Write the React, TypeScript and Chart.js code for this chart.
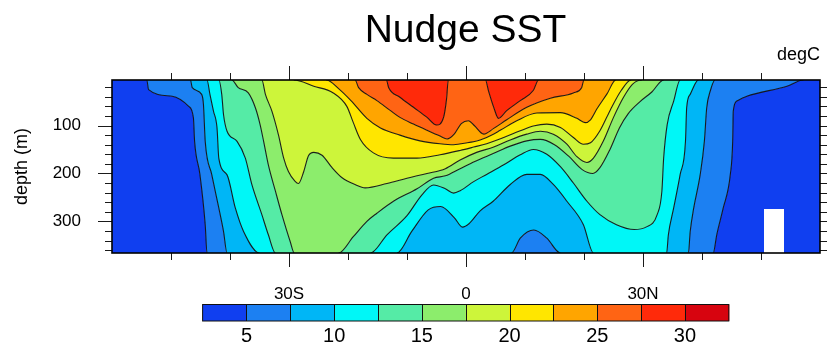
import React, { useEffect, useRef } from 'react';
import { Chart, registerables } from 'chart.js';

Chart.register(...registerables);

type Pt = [number, number];

const titleText = 'Nudge SST';
const unitsText = 'degC';
const yAxisTitle = 'depth (m)';

const latRange: Pt = [-60, 60];
const depthRange: Pt = [5, 366];

const xMajorTicks = [-30, 0, 30];
const xTickLabels = ['30S', '0', '30N'];
const xMinorTicks = [-50, -40, -20, -10, 10, 20, 40, 50];
const yMajorTicks = [100, 200, 300];
const yMinorTicks = [20, 40, 60, 80, 120, 140, 160, 180, 220, 240, 260, 280, 320, 340, 360];

const contourLevels = [5, 7.5, 10, 12.5, 15, 17.5, 20, 22.5, 25, 27.5, 30];
const bandColors = [
  '#103ff0', '#1c80f2', '#00b6f6', '#00f7f7', '#55eba6', '#8ced6c',
  '#cdf53a', '#ffe600', '#ffa500', '#ff6414', '#ff2a0a', '#d7040f',
];

// isotherm depth (m) vs latitude (deg); 5 = above surface, 366 = below bottom
const iso05: Pt[] = [[-60,5],[-54.1,5],[-53.8,25],[-49.8,39],[-47.0,60],[-46.2,84],[-46.0,133],[-45.1,202],[-44.2,307],[-43.9,366],[41.9,366],[42.5,328],[43.6,272],[44.8,202],[45.2,133],[45.3,70],[45.9,49],[47.6,39],[54.4,18],[57.2,5],[60,5]];
const iso075: Pt[] = [[-60,5],[-46.7,5],[-46.4,21],[-44.8,35],[-44.5,56],[-44.2,133],[-43.1,202],[-41.9,272],[-41.1,321],[-40.5,366],[7.7,366],[9.2,335],[11.5,318],[13.7,335],[16.0,366],[37.7,366],[38.0,321],[38.6,272],[39.7,202],[40.4,133],[40.8,63],[41.4,28],[42.2,5],[60,5]];
const iso10: Pt[] = [[-60,5],[-43.9,5],[-43.4,35],[-42.8,70],[-42.2,105],[-41.9,168],[-40.5,203],[-39.1,272],[-37.7,321],[-35.0,366],[-11.7,366],[-9.2,321],[-6.4,276],[-4.3,269],[-2.0,292],[-0.6,312],[0.5,305],[2.4,278],[4.6,258],[7.5,223],[10.3,202],[12.6,202],[14.8,223],[17.1,258],[19.9,307],[21.6,366],[34.0,366],[34.3,328],[35.2,272],[36.3,202],[37.2,133],[37.4,63],[38.0,35],[39.4,5],[60,5]];
const iso125: Pt[] = [[-60,5],[-41.9,5],[-41.4,35],[-41.1,77],[-40.5,112],[-38.8,133],[-37.4,168],[-36.3,223],[-34.6,286],[-33.5,328],[-32.3,366],[-16.2,366],[-13.4,328],[-10.0,288],[-7.5,245],[-5.5,224],[-3.5,232],[-2.1,241],[-1.0,236],[1.3,217],[3.5,202],[6.4,182],[9.2,161],[11.4,150],[13.7,160],[16.0,186],[18.2,220],[20.5,258],[22.7,286],[25.5,307],[28.5,317],[30.5,312],[32.4,286],[33.2,237],[33.5,168],[34.1,98],[35.2,49],[36.3,5],[60,5]];
const iso15: Pt[] = [[-60,5],[-39.7,5],[-38.6,21],[-36.9,32],[-35.7,63],[-34.9,98],[-34.3,133],[-33.5,182],[-32.3,237],[-31.2,286],[-29.8,342],[-29.1,366],[-21.6,366],[-19.1,332],[-16.8,300],[-15.1,283],[-12.3,258],[-8.3,232],[-5.5,210],[-3.5,205],[-1.0,190],[1.5,175],[4.7,158],[7.5,143],[10.3,132],[12.6,129],[15.0,140],[17.4,164],[19.7,192],[21.5,200],[22.7,188],[24.4,150],[26.0,105],[27.5,75],[29.5,50],[31.5,30],[33.5,5],[60,5]];
const iso175: Pt[] = [[-60,5],[-34.6,5],[-34.0,35],[-32.9,70],[-31.8,119],[-30.9,168],[-30.1,196],[-29.0,216],[-28.4,221],[-27.5,196],[-26.7,163],[-25.8,156],[-24.4,162],[-22.7,188],[-21.0,209],[-18.8,223],[-17.1,230],[-13.4,221],[-10.0,210],[-6.6,200],[-3.5,190],[-1.0,172],[1.8,156],[4.7,145],[7.5,130],[10.3,118],[12.6,112],[14.8,118],[17.1,139],[18.8,165],[20.5,177],[21.6,168],[23.3,132],[25.0,83],[26.7,41],[28.2,14],[29.8,5],[60,5]];
const iso20: Pt[] = [[-60,5],[-29.2,5],[-25.8,18],[-22.5,32],[-20.2,60],[-19.1,94],[-17.9,129],[-15.7,157],[-12.3,168],[-8.3,168],[-4.4,161],[-1.0,152],[1.3,145],[3.5,138],[6.4,125],[9.2,111],[11.4,101],[13.7,97],[16.0,104],[18.2,125],[19.9,139],[21.1,136],[22.7,111],[24.4,69],[26.3,27],[28.0,5],[60,5]];
const iso225: Pt[] = [[-60,5],[-23.7,5],[-21.5,24],[-19.5,48],[-16.8,85],[-14.5,105],[-11.2,120],[-7.8,132],[-4.4,138],[-2.1,140],[0.2,136],[2.4,130],[3.5,125],[5.8,110],[8.6,90],[12.0,74],[16.0,73],[18.8,85],[20.2,94],[21.1,88],[22.2,65],[23.9,34],[25.4,5],[60,5]];
const iso25: Pt[] = [[-60,5],[-18.8,5],[-18.2,21],[-16.8,35],[-15.1,48],[-12.8,69],[-11.2,83],[-8.9,97],[-6.6,110],[-4.4,122],[-3.2,128],[-2.0,118],[-0.8,96],[0.4,90],[1.4,100],[3.0,118],[4.7,106],[6.9,88],[10.3,62],[14.3,43],[18.2,32],[19.6,21],[20.0,5],[60,5]];
const iso275: Pt[] = [[-60,5],[-13.5,5],[-13.1,21],[-11.2,41],[-8.9,62],[-6.6,83],[-5.0,99],[-3.8,83],[-3.3,45],[-3.0,5],[3.3,5],[3.8,27],[4.7,62],[5.5,85],[6.9,69],[9.2,48],[11.4,27],[12.3,5],[60,5]];

// missing-data block
const maskLat: Pt = [50.5, 53.9];
const maskTopDepth = 274;

const isotherms: Pt[][] = [iso05, iso075, iso10, iso125, iso15, iso175, iso20, iso225, iso25, iso275];

const FONT = '"Liberation Sans", Arial, Helvetica, sans-serif';

const toXY = (pts: Pt[]) => pts.map(([x, y]) => ({ x, y }));
const [dTop, dBot] = depthRange;

const hideClamped = (pts: Pt[]) => (ctx: any) => {
  const a = pts[ctx.p0DataIndex];
  const b = pts[ctx.p1DataIndex];
  if (a && b && a[1] === b[1] && (a[1] === dTop || a[1] === dBot)) return 'rgba(0,0,0,0)';
  return undefined;
};

function buildDatasets(): any[] {
  // filled bands (no outline, so each band is a single polygon)
  const fills: any[] = isotherms.map((pts, i) => ({
    label: `band ${i}`,
    data: toXY(pts),
    fill: i === 0 ? { value: dBot } : '-1',
    backgroundColor: bandColors[i],
    borderColor: 'rgba(0,0,0,0)',
    borderWidth: 0,
    pointRadius: 0,
    pointHoverRadius: 0,
    cubicInterpolationMode: 'monotone',
  }));
  fills.push({
    label: 'top band',
    data: toXY(iso275),
    fill: { value: dTop },
    backgroundColor: bandColors[isotherms.length],
    borderWidth: 0,
    borderColor: 'rgba(0,0,0,0)',
    pointRadius: 0,
    cubicInterpolationMode: 'monotone',
  });
  fills.push({
    label: 'mask',
    data: [
      { x: maskLat[0], y: dBot },
      { x: maskLat[0], y: maskTopDepth },
      { x: maskLat[1], y: maskTopDepth },
      { x: maskLat[1], y: dBot },
    ],
    fill: { value: dBot },
    backgroundColor: '#ffffff',
    borderWidth: 0,
    borderColor: 'rgba(0,0,0,0)',
    pointRadius: 0,
    tension: 0,
    order: -1,
  });
  // contour lines
  const lines = isotherms.map((pts, i) => ({
    label: `${contourLevels[i]} degC`,
    data: toXY(pts),
    fill: false,
    borderColor: 'rgba(15,15,15,0.92)',
    borderWidth: 1.1,
    pointRadius: 0,
    pointHoverRadius: 0,
    cubicInterpolationMode: 'monotone',
    segment: { borderColor: hideClamped(pts) },
    order: -2,
  }));
  return [...fills, ...lines];
}

const decorPlugin = {
  id: 'nclDecor',
  afterDatasetsDraw(chart: any) {
    const { ctx, chartArea: a, scales } = chart;
    const xs = scales.x;
    const ys = scales.y;
    ctx.save();
    ctx.strokeStyle = '#1a1a1a';
    ctx.lineWidth = 1;
    const line = (x1: number, y1: number, x2: number, y2: number) => {
      ctx.beginPath();
      ctx.moveTo(x1, y1);
      ctx.lineTo(x2, y2);
      ctx.stroke();
    };
    const xt = (vals: number[], len: number) => {
      vals.forEach((v) => {
        const px = Math.round(xs.getPixelForValue(v)) + 0.5;
        line(px, a.bottom, px, a.bottom + len);
        line(px, a.top, px, a.top - len);
      });
    };
    const yt = (vals: number[], len: number) => {
      vals.forEach((v) => {
        const py = Math.round(ys.getPixelForValue(v)) + 0.5;
        line(a.left, py, a.left - len, py);
        line(a.right, py, a.right + len, py);
      });
    };
    xt(xMajorTicks, 14);
    xt(xMinorTicks, 7);
    yt(yMajorTicks, 14);
    yt(yMinorTicks, 7);
    ctx.strokeStyle = '#000';
    ctx.lineWidth = 1.6;
    ctx.strokeRect(a.left, a.top, a.right - a.left, a.bottom - a.top);
    ctx.restore();
  },
  afterDraw(chart: any) {
    const { ctx, chartArea: a } = chart;
    ctx.save();
    ctx.fillStyle = '#000';
    // title
    ctx.font = `39px ${FONT}`;
    ctx.textAlign = 'center';
    ctx.textBaseline = 'alphabetic';
    ctx.fillText(titleText, 465.5, 41.5);
    // units
    ctx.font = `18px ${FONT}`;
    ctx.textAlign = 'right';
    ctx.fillText(unitsText, a.right, 60);
    // y axis title
    ctx.save();
    ctx.translate(27, (a.top + a.bottom) / 2);
    ctx.rotate(-Math.PI / 2);
    ctx.textAlign = 'center';
    ctx.font = `18px ${FONT}`;
    ctx.fillText(yAxisTitle, 0, 0);
    ctx.restore();
    // colorbar
    const cbX0 = 202.6;
    const cbX1 = 728.8;
    const cbY0 = 304.5;
    const cbY1 = 321;
    const n = bandColors.length;
    const w = (cbX1 - cbX0) / n;
    bandColors.forEach((c, i) => {
      ctx.fillStyle = c;
      ctx.fillRect(cbX0 + i * w, cbY0, w + 0.5, cbY1 - cbY0);
    });
    ctx.strokeStyle = '#111';
    ctx.lineWidth = 1;
    for (let i = 1; i < n; i++) {
      const x = Math.round(cbX0 + i * w) + 0.5;
      ctx.beginPath();
      ctx.moveTo(x, cbY0);
      ctx.lineTo(x, cbY1);
      ctx.stroke();
    }
    ctx.strokeRect(cbX0, cbY0, cbX1 - cbX0, cbY1 - cbY0);
    ctx.fillStyle = '#000';
    ctx.font = `20px ${FONT}`;
    ctx.textAlign = 'center';
    contourLevels.forEach((lv, i) => {
      if (lv % 5 === 0) ctx.fillText(String(lv), cbX0 + (i + 1) * w, 342);
    });
    ctx.restore();
  },
};

export default function App() {
  const ref = useRef<HTMLCanvasElement | null>(null);
  useEffect(() => {
    if (!ref.current) return;
    const chart = new Chart(ref.current, {
      type: 'line',
      data: { datasets: buildDatasets() },
      options: {
        responsive: false,
        maintainAspectRatio: false,
        animation: false,
        events: [],
        layout: { padding: { top: 80, right: 7, left: 0, bottom: 0 } },
        plugins: {
          legend: { display: false },
          tooltip: { enabled: false },
          filler: { drawTime: 'beforeDatasetsDraw', propagate: false },
        },
        scales: {
          x: {
            type: 'linear',
            position: 'bottom',
            min: latRange[0],
            max: latRange[1],
            grid: { display: false, drawTicks: false, tickLength: 0 },
            border: { display: false },
            afterBuildTicks: (s: any) => {
              s.ticks = xMajorTicks.map((v) => ({ value: v }));
            },
            afterFit: (s: any) => {
              s.height = 92;
            },
            ticks: {
              autoSkip: false,
              maxRotation: 0,
              padding: 31,
              color: '#000',
              font: { family: FONT, size: 17 },
              callback: (v: any) => {
                const i = xMajorTicks.indexOf(Number(v));
                return i >= 0 ? xTickLabels[i] : '';
              },
            },
          },
          y: {
            type: 'linear',
            position: 'left',
            reverse: true,
            min: depthRange[0],
            max: depthRange[1],
            grid: { display: false, drawTicks: false, tickLength: 0 },
            border: { display: false },
            afterBuildTicks: (s: any) => {
              s.ticks = yMajorTicks.map((v) => ({ value: v }));
            },
            afterFit: (s: any) => {
              s.width = 112;
            },
            ticks: {
              autoSkip: false,
              padding: 31,
              color: '#000',
              font: { family: FONT, size: 17 },
              callback: (v: any) => String(v),
            },
          },
        },
      } as any,
      plugins: [decorPlugin],
    });
    return () => chart.destroy();
  }, []);
  return (
    <div style={{ position: 'absolute', left: 0, top: 0, width: 827, height: 345, background: '#fff' }}>
      <canvas ref={ref} width={827} height={345} style={{ display: 'block', width: 827, height: 345 }} />
    </div>
  );
}
